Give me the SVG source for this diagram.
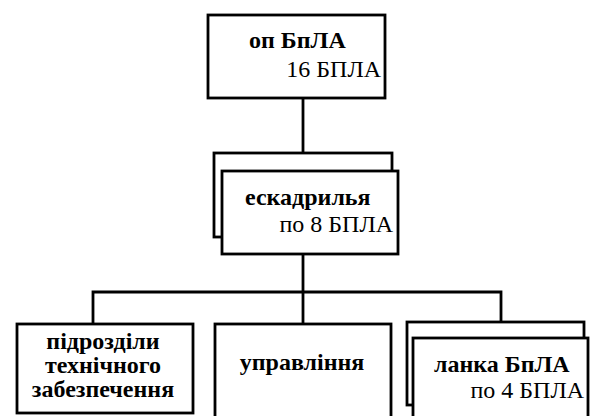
<svg xmlns="http://www.w3.org/2000/svg" width="592" height="416" viewBox="0 0 592 416">
<style>
.box{fill:#fff;stroke:#000;stroke-width:2.8}
.ln{fill:none;stroke:#000;stroke-width:2.8}
text{font-family:"Liberation Serif","Times New Roman",serif;font-size:24px;fill:#000}
.b{font-weight:bold}
.m{text-anchor:middle}
.e{text-anchor:end}
</style>
<rect width="592" height="416" fill="#fff"/>
<g id="connectors">
<path class="ln" d="M303 98V154"/>
<path class="ln" d="M303 254V324"/>
<path class="ln" d="M93 324V292H501V322"/>
</g>
<g id="top">
<rect class="box" x="208" y="15" width="177" height="83"/>
<text class="b" x="249" y="48">оп БпЛА</text>
<text class="e" x="381" y="77">16 БПЛА</text>
</g>
<g id="squadron">
<rect class="box" x="214" y="153" width="178" height="84"/>
<rect class="box" x="222" y="171" width="176" height="83"/>
<text class="b" x="245" y="205">ескадрилья</text>
<text class="e" x="393" y="232">по 8 БПЛА</text>
</g>
<g id="support">
<rect class="box" x="17" y="324" width="176" height="89"/>
<text class="b m" x="103" y="349">підрозділи</text>
<text class="b m" x="103" y="373">технічного</text>
<text class="b m" x="103" y="397">забезпечення</text>
</g>
<g id="control">
<rect class="box" x="215" y="324" width="176" height="94"/>
<text class="b m" x="302" y="370">управління</text>
</g>
<g id="flight">
<rect class="box" x="407" y="322" width="177" height="83"/>
<rect class="box" x="413" y="338" width="175" height="84"/>
<text class="b" x="434" y="372">ланка БпЛА</text>
<text class="e" x="584" y="398">по 4 БПЛА</text>
</g>
</svg>
